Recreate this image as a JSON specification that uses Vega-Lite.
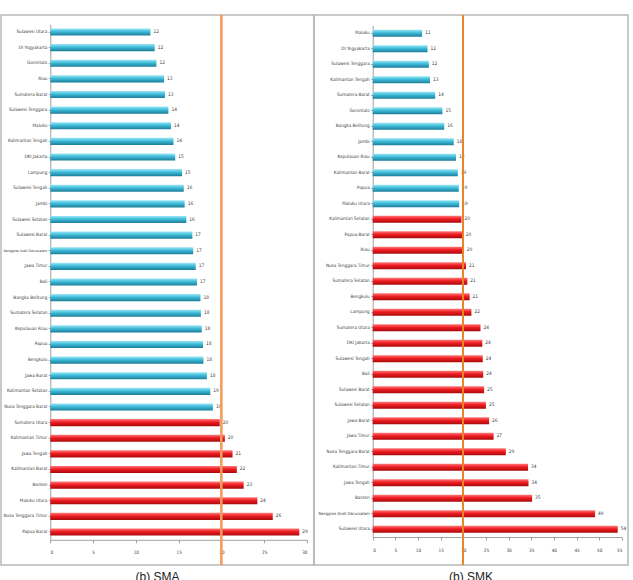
{
  "$schema": "https://vega.github.io/schema/vega-lite/v6.json",
  "padding": {"left": 0, "top": 13, "right": 0, "bottom": 0},
  "spacing": 0,
  "bounds": "flush",
  "background": "white",
  "config": {
    "view": {"stroke": "#b8b8b8", "strokeWidth": 1.5},
    "font": "DejaVu Sans Condensed, Liberation Sans",
    "axis": {"labelFont": "DejaVu Sans Condensed, Liberation Sans", "labelColor": "#404040", "domainColor": "#a0a0a0", "tickColor": "#a0a0a0", "grid": false, "title": null}
  },
  "datasets": {
    "sma": [
      {"provinsi": "Sulawesi Utara", "nilai": 11.7, "kelompok": "bawah"},
      {"provinsi": "DI Yogyakarta", "nilai": 12.2, "kelompok": "bawah"},
      {"provinsi": "Gorontalo", "nilai": 12.4, "kelompok": "bawah"},
      {"provinsi": "Riau", "nilai": 13.3, "kelompok": "bawah"},
      {"provinsi": "Sumatera Barat", "nilai": 13.4, "kelompok": "bawah"},
      {"provinsi": "Sulawesi Tenggara", "nilai": 13.8, "kelompok": "bawah"},
      {"provinsi": "Maluku", "nilai": 14.1, "kelompok": "bawah"},
      {"provinsi": "Kalimantan Tengah", "nilai": 14.4, "kelompok": "bawah"},
      {"provinsi": "DKI Jakarta", "nilai": 14.6, "kelompok": "bawah"},
      {"provinsi": "Lampung", "nilai": 15.4, "kelompok": "bawah"},
      {"provinsi": "Sulawesi Tengah", "nilai": 15.6, "kelompok": "bawah"},
      {"provinsi": "Jambi", "nilai": 15.7, "kelompok": "bawah"},
      {"provinsi": "Sulawesi Selatan", "nilai": 15.9, "kelompok": "bawah"},
      {"provinsi": "Sulawesi Barat", "nilai": 16.6, "kelompok": "bawah"},
      {"provinsi": "Nanggroe Aceh Darussalam", "nilai": 16.7, "kelompok": "bawah"},
      {"provinsi": "Jawa Timur", "nilai": 17.0, "kelompok": "bawah"},
      {"provinsi": "Bali", "nilai": 17.15, "kelompok": "bawah"},
      {"provinsi": "Bangka Belitung", "nilai": 17.55, "kelompok": "bawah"},
      {"provinsi": "Sumatera Selatan", "nilai": 17.6, "kelompok": "bawah"},
      {"provinsi": "Kepulauan Riau", "nilai": 17.7, "kelompok": "bawah"},
      {"provinsi": "Papua", "nilai": 17.85, "kelompok": "bawah"},
      {"provinsi": "Bengkulu", "nilai": 17.9, "kelompok": "bawah"},
      {"provinsi": "Jawa Barat", "nilai": 18.3, "kelompok": "bawah"},
      {"provinsi": "Kalimantan Selatan", "nilai": 18.7, "kelompok": "bawah"},
      {"provinsi": "Nusa Tenggara Barat", "nilai": 19.0, "kelompok": "bawah"},
      {"provinsi": "Sumatera Utara", "nilai": 19.8, "kelompok": "atas"},
      {"provinsi": "Kalimantan Timur", "nilai": 20.4, "kelompok": "atas"},
      {"provinsi": "Jawa Tengah", "nilai": 21.3, "kelompok": "atas"},
      {"provinsi": "Kalimantan Barat", "nilai": 21.8, "kelompok": "atas"},
      {"provinsi": "Banten", "nilai": 22.6, "kelompok": "atas"},
      {"provinsi": "Maluku Utara", "nilai": 24.2, "kelompok": "atas"},
      {"provinsi": "Nusa Tenggara Timur", "nilai": 26.0, "kelompok": "atas"},
      {"provinsi": "Papua Barat", "nilai": 29.1, "kelompok": "atas"}
    ],
    "smk": [
      {"provinsi": "Maluku", "nilai": 10.9, "kelompok": "bawah"},
      {"provinsi": "DI Yogyakarta", "nilai": 12.1, "kelompok": "bawah"},
      {"provinsi": "Sulawesi Tenggara", "nilai": 12.4, "kelompok": "bawah"},
      {"provinsi": "Kalimantan Tengah", "nilai": 12.65, "kelompok": "bawah"},
      {"provinsi": "Sumatera Barat", "nilai": 13.8, "kelompok": "bawah"},
      {"provinsi": "Gorontalo", "nilai": 15.4, "kelompok": "bawah"},
      {"provinsi": "Bangka Belitung", "nilai": 15.8, "kelompok": "bawah"},
      {"provinsi": "Jambi", "nilai": 17.9, "kelompok": "bawah"},
      {"provinsi": "Kepulauan Riau", "nilai": 18.4, "kelompok": "bawah"},
      {"provinsi": "Kalimantan Barat", "nilai": 18.8, "kelompok": "bawah"},
      {"provinsi": "Papua", "nilai": 19.0, "kelompok": "bawah"},
      {"provinsi": "Maluku Utara", "nilai": 19.1, "kelompok": "bawah"},
      {"provinsi": "Kalimantan Selatan", "nilai": 19.6, "kelompok": "atas"},
      {"provinsi": "Papua Barat", "nilai": 19.9, "kelompok": "atas"},
      {"provinsi": "Riau", "nilai": 20.1, "kelompok": "atas"},
      {"provinsi": "Nusa Tenggara Timur", "nilai": 20.6, "kelompok": "atas"},
      {"provinsi": "Sumatera Selatan", "nilai": 20.9, "kelompok": "atas"},
      {"provinsi": "Bengkulu", "nilai": 21.4, "kelompok": "atas"},
      {"provinsi": "Lampung", "nilai": 21.8, "kelompok": "atas"},
      {"provinsi": "Sumatera Utara", "nilai": 23.8, "kelompok": "atas"},
      {"provinsi": "DKI Jakarta", "nilai": 24.2, "kelompok": "atas"},
      {"provinsi": "Sulawesi Tengah", "nilai": 24.3, "kelompok": "atas"},
      {"provinsi": "Bali", "nilai": 24.4, "kelompok": "atas"},
      {"provinsi": "Sulawesi Barat", "nilai": 24.6, "kelompok": "atas"},
      {"provinsi": "Sulawesi Selatan", "nilai": 25.0, "kelompok": "atas"},
      {"provinsi": "Jawa Barat", "nilai": 25.7, "kelompok": "atas"},
      {"provinsi": "Jawa Timur", "nilai": 26.7, "kelompok": "atas"},
      {"provinsi": "Nusa Tenggara Barat", "nilai": 29.4, "kelompok": "atas"},
      {"provinsi": "Kalimantan Timur", "nilai": 34.3, "kelompok": "atas"},
      {"provinsi": "Jawa Tengah", "nilai": 34.4, "kelompok": "atas"},
      {"provinsi": "Banten", "nilai": 35.2, "kelompok": "atas"},
      {"provinsi": "Nanggroe Aceh Darussalam", "nilai": 49.1, "kelompok": "atas"},
      {"provinsi": "Sulawesi Utara", "nilai": 54.1, "kelompok": "atas"}
    ]
  },
  "hconcat": [
    {
      "width": 313,
      "height": 550,
      "data": {"name": "sma"},
      "title": {"text": "(b)  SMA", "orient": "bottom", "anchor": "middle", "font": "Liberation Sans", "fontSize": 12, "fontWeight": "normal", "color": "#222222", "offset": 6},
      "encoding": {
        "y": {
          "field": "provinsi", "type": "nominal", "sort": null,
          "scale": {"range": [9.2, 524.8], "paddingInner": 0.55, "paddingOuter": 0.275},
          "axis": {"offset": -49.3, "labelFontSize": {"expr": "datum.label == 'Nanggroe Aceh Darussalam' ? 3.5 : 4.6"}, "labelPadding": 1.5, "tickSize": 2, "labelLimit": 60}
        },
        "x": {
          "field": "nilai", "type": "quantitative",
          "scale": {"domain": [0, 30], "range": [49.3, 306], "nice": false},
          "axis": {"offset": -25.2, "values": [0, 5, 10, 15, 20, 25, 30], "labelFontSize": 4.6, "labelPadding": 7, "tickSize": 3}
        }
      },
      "layer": [
        {
          "mark": {"type": "bar"},
          "encoding": {
            "color": {
              "condition": {"test": "datum.kelompok === 'atas'", "value": {"gradient": "linear", "x1": 0, "y1": 0, "x2": 0, "y2": 1, "stops": [{"offset": 0, "color": "#ff7a7a"}, {"offset": 0.45, "color": "#ee1c22"}, {"offset": 1, "color": "#a80a0a"}]}},
              "value": {"gradient": "linear", "x1": 0, "y1": 0, "x2": 0, "y2": 1, "stops": [{"offset": 0, "color": "#9ae6f5"}, {"offset": 0.45, "color": "#3dbbd9"}, {"offset": 1, "color": "#1d7d98"}]}
            }
          }
        },
        {
          "mark": {"type": "text", "align": "left", "baseline": "middle", "dx": 3, "fontSize": 4.8, "color": "#404040"},
          "encoding": {"text": {"field": "nilai", "type": "quantitative", "format": ".0f"}}
        },
        {
          "mark": {"type": "rule", "color": "#f0a060", "strokeWidth": 1.2},
          "encoding": {"x": {"datum": 20}, "y": null}
        }
      ]
    },
    {
      "width": 314,
      "height": 550,
      "data": {"name": "smk"},
      "title": {"text": "(b)  SMK", "orient": "bottom", "anchor": "middle", "font": "Liberation Sans", "fontSize": 12, "fontWeight": "normal", "color": "#222222", "offset": 6},
      "encoding": {
        "y": {
          "field": "provinsi", "type": "nominal", "sort": null,
          "scale": {"range": [10.5, 522], "paddingInner": 0.55, "paddingOuter": 0.275},
          "axis": {"offset": -58.7, "labelFontSize": {"expr": "datum.label == 'Nanggroe Aceh Darussalam' ? 4.1 : 4.6"}, "labelPadding": 1.5, "tickSize": 2, "labelLimit": 60}
        },
        "x": {
          "field": "nilai", "type": "quantitative",
          "scale": {"domain": [0, 55], "range": [58.7, 307.8], "nice": false},
          "axis": {"offset": -28, "values": [0, 5, 10, 15, 20, 25, 30, 35, 40, 45, 50, 55], "labelFontSize": 4.6, "labelPadding": 7, "tickSize": 3}
        }
      },
      "layer": [
        {
          "mark": {"type": "bar"},
          "encoding": {
            "color": {
              "condition": {"test": "datum.kelompok === 'atas'", "value": {"gradient": "linear", "x1": 0, "y1": 0, "x2": 0, "y2": 1, "stops": [{"offset": 0, "color": "#ff7a7a"}, {"offset": 0.45, "color": "#ee1c22"}, {"offset": 1, "color": "#a80a0a"}]}},
              "value": {"gradient": "linear", "x1": 0, "y1": 0, "x2": 0, "y2": 1, "stops": [{"offset": 0, "color": "#9ae6f5"}, {"offset": 0.45, "color": "#3dbbd9"}, {"offset": 1, "color": "#1d7d98"}]}
            }
          }
        },
        {
          "mark": {"type": "text", "align": "left", "baseline": "middle", "dx": 3, "fontSize": 4.8, "color": "#404040"},
          "encoding": {"text": {"field": "nilai", "type": "quantitative", "format": ".0f"}}
        },
        {
          "mark": {"type": "rule", "color": "#e8862a", "strokeWidth": 1.2},
          "encoding": {"x": {"datum": 20}, "y": null}
        }
      ]
    }
  ]
}
